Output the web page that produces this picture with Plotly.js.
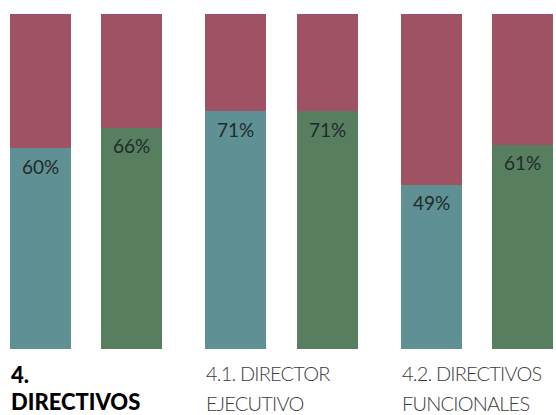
<!DOCTYPE html>
<html>
<head>
<meta charset="utf-8">
<script src="https://cdn.plot.ly/plotly-3.0.1.min.js"></script>
<style>
html,body{margin:0;padding:0;background:#fff;}
#chart{width:556px;height:415px;}
.tight text{letter-spacing:-0.8px;}
</style>
</head>
<body>
<div id="chart"></div>
<script>
// Data
const groupLine1 = ["4.", "4.1. DIRECTOR", "4.2. DIRECTIVOS"];
const groupLine2 = ["DIRECTIVOS", "EJECUTIVO", "FUNCIONALES"];
const groupBold = [true, false, false];
const seriesA = [60, 71, 49];   // teal bars
const seriesB = [66, 71, 61];   // green bars
const total = 100;

// Style / layout
const colA = "#5f9194", colB = "#587e60", colRest = "#9f5264";
const half = 0.233, barW = 0.312;
const xA = groupLine1.map((_, i) => i - half);
const xB = groupLine1.map((_, i) => i + half);

const traces = [
  {type: "bar", x: xA, y: seriesA, width: barW, marker: {color: colA}, hoverinfo: "none"},
  {type: "bar", x: xB, y: seriesB, width: barW, marker: {color: colB}, hoverinfo: "none"},
  {type: "bar", x: xA, y: seriesA.map(v => total - v), width: barW, marker: {color: colRest}, hoverinfo: "none"},
  {type: "bar", x: xB, y: seriesB.map(v => total - v), width: barW, marker: {color: colRest}, hoverinfo: "none"}
];

const annotations = [];
const pctFont = {family: "Lato, 'Open Sans', sans-serif", size: 19, color: "#1f2b2b"};
seriesA.forEach((v, i) => annotations.push({x: xA[i], y: v, xref: "x", yref: "y", text: v + "%", showarrow: false, yanchor: "middle", yshift: -18, font: pctFont}));
seriesB.forEach((v, i) => annotations.push({x: xB[i], y: v, xref: "x", yref: "y", text: v + "%", showarrow: false, yanchor: "middle", yshift: -18, font: pctFont}));
const tightIdx = [];
groupLine1.forEach((t, i) => {
  const bold = groupBold[i];
  const f = {family: "Lato, 'Open Sans', sans-serif", size: bold ? 22 : 20, color: bold ? "#000000" : "#3c3c3c", weight: bold ? 900 : 300};
  const base = {x: i - half - barW / 2, y: 0, xref: "x", yref: "paper", showarrow: false, xanchor: "left", yanchor: "top", align: "left", xshift: -1, font: f};
  if (!bold) tightIdx.push(annotations.length, annotations.length + 1);
  annotations.push(Object.assign({}, base, {text: t, yshift: -10}));
  annotations.push(Object.assign({}, base, {text: groupLine2[i], yshift: bold ? -37 : -40}));
});

const layout = {
  width: 556, height: 415,
  margin: {l: 0, r: 0, t: 14, b: 66},
  barmode: "stack",
  showlegend: false,
  paper_bgcolor: "#ffffff", plot_bgcolor: "#ffffff",
  xaxis: {range: [-0.440, 2.404], visible: false, fixedrange: true},
  yaxis: {range: [0, total], visible: false, fixedrange: true},
  annotations: annotations
};

Plotly.newPlot("chart", traces, layout, {displayModeBar: false, staticPlot: true}).then(gd => {
  gd.querySelectorAll("g.annotation").forEach(g => {
    if (tightIdx.includes(Number(g.getAttribute("data-index")))) g.classList.add("tight");
  });
});
</script>
</body>
</html>
